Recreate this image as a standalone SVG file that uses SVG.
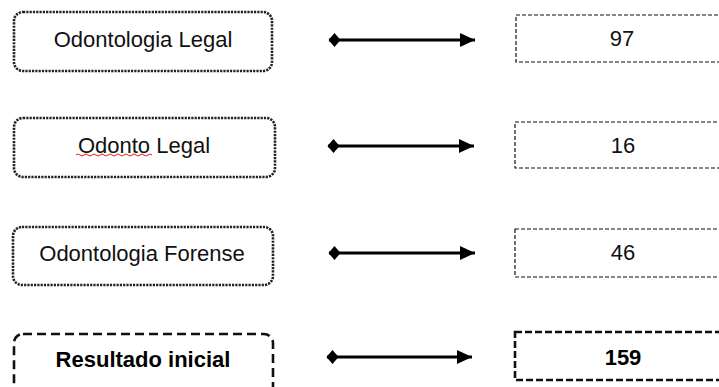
<svg xmlns="http://www.w3.org/2000/svg" width="719" height="387" viewBox="0 0 719 387">
<defs>
<marker id="dia" markerUnits="userSpaceOnUse" markerWidth="14" markerHeight="16" refX="1" refY="8" orient="auto">
<path d="M0.5,8 L6.5,1 L12.5,8 L6.5,15 Z" fill="#000"/>
</marker>
<marker id="head" markerUnits="userSpaceOnUse" markerWidth="16" markerHeight="16" refX="15" refY="8" orient="auto">
<path d="M0,1 L15,8 L0,15 Z" fill="#000"/>
</marker>
</defs>
<style>
text{font-family:"Liberation Sans",Arial,sans-serif;font-size:22px;fill:#111;text-anchor:middle}
.b{font-weight:bold;fill:#000}
.dot{fill:#fff;stroke:#222;stroke-width:2.6;stroke-dasharray:2.2 1.1}
.thin{fill:#fff;stroke:#111;stroke-width:1.2;stroke-dasharray:4 2}
.bdl{fill:#fff;stroke:#111;stroke-width:2.6;stroke-dasharray:9 5}
.bdr{fill:#fff;stroke:#111;stroke-width:2.6;stroke-dasharray:7 3}
.arr{stroke:#000;stroke-width:3.2;fill:none;marker-start:url(#dia);marker-end:url(#head)}
</style>
<rect width="719" height="387" fill="#fff"/>
<g id="n1"><rect class="dot" x="14" y="12" width="258" height="59" rx="9"/><text x="143" y="47">Odontologia Legal</text></g>
<g id="n2"><rect class="dot" x="14" y="118" width="261" height="59" rx="9"/><text x="144" y="153">Odonto Legal</text><path d="M76,155 q2,-2 4,0 t4,0 t4,0 t4,0 t4,0 t4,0 t4,0 t4,0 t4,0 t4,0 t4,0 t4,0 t4,0 t4,0 t4,0 t4,0 t4,0 t4,0 t4,0" fill="none" stroke="#e02020" stroke-width="1"/></g>
<g id="n3"><rect class="dot" x="13" y="227" width="260" height="58" rx="9"/><text x="142" y="261">Odontologia Forense</text></g>
<g id="n4"><rect class="bdl" x="14" y="334" width="259" height="70" rx="9"/><text class="b" x="143" y="367">Resultado inicial</text></g>
<g id="r1"><rect class="thin" x="516" y="15" width="214" height="47"/><text x="622" y="46">97</text></g>
<g id="r2"><rect class="thin" x="515" y="122" width="215" height="46"/><text x="623" y="153">16</text></g>
<g id="r3"><rect class="thin" x="515" y="229" width="215" height="48"/><text x="623" y="260">46</text></g>
<g id="r4"><rect class="bdr" x="515" y="332" width="215" height="48"/><text class="b" x="623" y="365">159</text></g>
<g id="connectors">
<line class="arr" x1="329" y1="40" x2="475" y2="40"/>
<line class="arr" x1="328" y1="146" x2="474" y2="146"/>
<line class="arr" x1="329" y1="253" x2="475" y2="253"/>
<line class="arr" x1="327" y1="357" x2="472" y2="357"/>
</g>
</svg>
